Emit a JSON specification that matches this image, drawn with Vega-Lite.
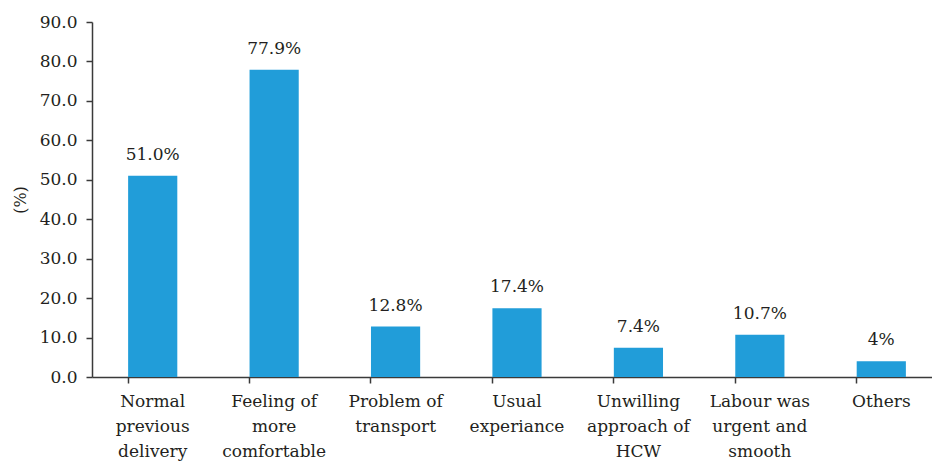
{
  "$schema": "https://vega.github.io/schema/vega-lite/v6.json",
  "width": 850,
  "height": 355,
  "autosize": "none",
  "padding": {"left": 92, "top": 22, "right": 0, "bottom": 86},
  "background": "white",
  "config": {
    "view": {"stroke": null},
    "font": "'DejaVu Serif'",
    "axis": {"labelFont": "'DejaVu Serif'", "titleFont": "'DejaVu Serif'", "labelColor": "#231f20", "titleColor": "#231f20", "domainColor": "#3a3a3a", "tickColor": "#3a3a3a", "domainWidth": 1.5, "tickWidth": 1.5}
  },
  "data": {
    "values": [
      {"cat": "Normal\nprevious\ndelivery", "value": 51.0, "label": "51.0%"},
      {"cat": "Feeling of\nmore\ncomfortable", "value": 77.9, "label": "77.9%"},
      {"cat": "Problem of\ntransport", "value": 12.8, "label": "12.8%"},
      {"cat": "Usual\nexperiance", "value": 17.4, "label": "17.4%"},
      {"cat": "Unwilling\napproach of\nHCW", "value": 7.4, "label": "7.4%"},
      {"cat": "Labour was\nurgent and\nsmooth", "value": 10.7, "label": "10.7%"},
      {"cat": "Others", "value": 4.0, "label": "4%"}
    ]
  },
  "encoding": {
    "x": {
      "field": "cat", "type": "nominal", "sort": null,
      "scale": {"paddingInner": 0.595, "paddingOuter": 0.2975},
      "axis": {"title": null, "labelAngle": 0, "labelFontSize": 17, "labelLineHeight": 25, "labelPadding": 10, "tickSize": 6, "bandPosition": 0, "labelExpr": "split(datum.label, '\\n')", "labelBaseline": "top"}
    },
    "y": {
      "field": "value", "type": "quantitative",
      "scale": {"domain": [0, 90]},
      "axis": {"title": "(%)", "values": [0,10,20,30,40,50,60,70,80,90], "format": ".1f", "grid": false, "labelFontSize": 17, "tickSize": 6, "labelPadding": 9, "titleFontSize": 16, "titleFontWeight": "normal", "titlePadding": 11}
    }
  },
  "layer": [
    {"mark": {"type": "bar", "color": "#219dd9"}},
    {"mark": {"type": "text", "dy": -12, "baseline": "bottom", "fontSize": 17, "color": "#231f20", "font": "'DejaVu Serif'"},
     "encoding": {"text": {"field": "label"}}}
  ]
}
